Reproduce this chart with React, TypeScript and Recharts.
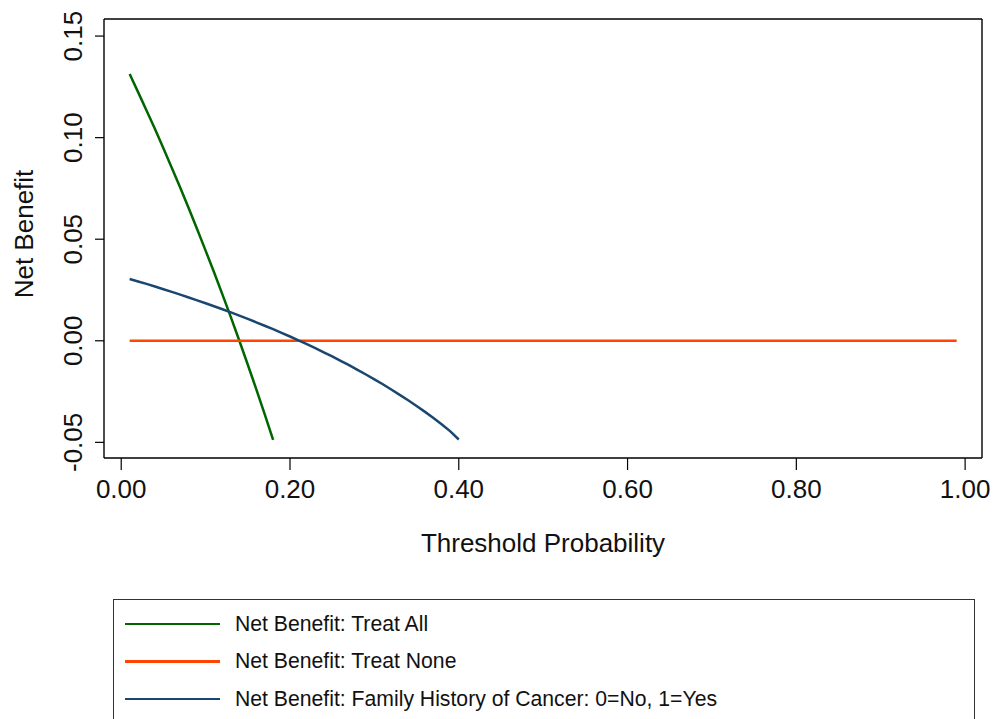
import { Legend, Line, LineChart, XAxis, YAxis } from "recharts";

const thresholds = [0.01, 0.02, 0.03, 0.04, 0.05, 0.06, 0.07, 0.08, 0.09, 0.1, 0.11, 0.12, 0.13, 0.14, 0.15, 0.16, 0.17, 0.18, 0.19, 0.2, 0.21, 0.22, 0.23, 0.24, 0.25, 0.26, 0.27, 0.28, 0.29, 0.3, 0.31, 0.32, 0.33, 0.34, 0.35, 0.36, 0.37, 0.38, 0.39, 0.4];

const treatAll = [0.1313, 0.1224, 0.1134, 0.1042, 0.0948, 0.0851, 0.0753, 0.0652, 0.0549, 0.0444, 0.0337, 0.0227, 0.0115, 0.0, -0.0118, -0.0238, -0.0361, -0.0488];

const familyHistory = [0.0304, 0.0292, 0.028, 0.0267, 0.0254, 0.0241, 0.0227, 0.0213, 0.0199, 0.0185, 0.017, 0.0155, 0.014, 0.0124, 0.0108, 0.0091, 0.0074, 0.0057, 0.0039, 0.0021, 0.0002, -0.0017, -0.0036, -0.0057, -0.0077, -0.0099, -0.012, -0.0143, -0.0166, -0.019, -0.0214, -0.024, -0.0266, -0.0293, -0.0321, -0.035, -0.038, -0.0412, -0.0446, -0.0486];

const treatNoneX = [0.01, 0.99];
const treatNone = [0, 0];

const xTicks = [0, 0.2, 0.4, 0.6, 0.8, 1.0];
const yTicks = [-0.05, 0, 0.05, 0.1, 0.15];

const series = [
  { name: "Net Benefit: Treat All", color: "#006600" },
  { name: "Net Benefit: Treat None", color: "#ff4500" },
  { name: "Net Benefit: Family History of Cancer: 0=No, 1=Yes", color: "#1a476f" },
];

const allData = treatAll.map((nb, i) => ({ pt: thresholds[i], nb }));
const fhData = familyHistory.map((nb, i) => ({ pt: thresholds[i], nb }));
const noneData = treatNone.map((nb, i) => ({ pt: treatNoneX[i], nb }));

const FONT = "Arial, 'Liberation Sans', Helvetica, sans-serif";
const INK = "#000";
const X_DOMAIN = [-0.0204, 1.02];
const Y_DOMAIN = [-0.0577, 0.1584];

function YTick({ x, y, payload }: any) {
  const bx = x - 11;
  return (
    <text
      x={bx}
      y={y}
      transform={`rotate(-90, ${bx}, ${y})`}
      textAnchor="middle"
      fontSize={26}
      fontFamily={FONT}
      fill="#111"
    >
      {payload.value.toFixed(2)}
    </text>
  );
}

function LegendBox() {
  return (
    <div
      style={{
        width: 862,
        height: 140,
        border: "1px solid #333",
        background: "#fff",
        fontFamily: FONT,
        fontSize: 21.2,
        color: "#111",
        boxSizing: "border-box",
        paddingTop: 5,
      }}
    >
      {series.map((s) => (
        <div key={s.name} style={{ display: "flex", alignItems: "center", height: 37.5 }}>
          <div style={{ marginLeft: 11, width: 95, height: 2.5, background: s.color }} />
          <span style={{ marginLeft: 15 }}>{s.name}</span>
        </div>
      ))}
    </div>
  );
}

export default function App() {
  return (
    <div style={{ position: "absolute", left: 0, top: 0, width: 997, height: 719, background: "#fff", overflow: "hidden" }}>
      <LineChart width={997} height={719} margin={{ top: 18, right: 14, left: 0, bottom: 181 }}>
        <XAxis
          type="number"
          dataKey="pt"
          domain={X_DOMAIN}
          ticks={xTicks}
          allowDataOverflow
          height={80}
          tickSize={12}
          tickMargin={10}
          tickFormatter={(v: number) => v.toFixed(2)}
          tick={{ fill: "#111", fontSize: 26, fontFamily: FONT }}
          axisLine={{ stroke: INK, strokeWidth: 1.4 }}
          tickLine={{ stroke: INK, strokeWidth: 1.2 }}
          label={{
            content: ({ viewBox }: any) => (
              <text
                x={viewBox.x + viewBox.width / 2}
                y={552}
                textAnchor="middle"
                fontSize={26}
                fontFamily={FONT}
                fill="#111"
              >
                Threshold Probability
              </text>
            ),
          }}
        />
        <XAxis
          xAxisId="top"
          orientation="top"
          type="number"
          domain={X_DOMAIN}
          allowDataOverflow
          ticks={[0.5]}
          tick={false}
          height={1}
          axisLine={{ stroke: INK, strokeWidth: 1.4 }}
          tickLine={false}
        />
        <YAxis
          type="number"
          domain={Y_DOMAIN}
          ticks={yTicks}
          allowDataOverflow
          width={104}
          tickSize={9}
          tickMargin={2}
          tick={<YTick />}
          axisLine={{ stroke: INK, strokeWidth: 1.4 }}
          tickLine={{ stroke: INK, strokeWidth: 1.2 }}
          label={{
            content: () => (
              <text
                x={33}
                y={234}
                transform="rotate(-90, 33, 234)"
                textAnchor="middle"
                fontSize={26}
                fontFamily={FONT}
                fill="#111"
              >
                Net Benefit
              </text>
            ),
          }}
        />
        <YAxis
          yAxisId="right"
          orientation="right"
          type="number"
          domain={Y_DOMAIN}
          allowDataOverflow
          ticks={[0]}
          tick={false}
          width={1}
          axisLine={{ stroke: INK, strokeWidth: 1.4 }}
          tickLine={false}
        />
        <Line
          data={allData}
          dataKey="nb"
          name={series[0].name}
          stroke={series[0].color}
          strokeWidth={2.5}
          dot={false}
          type="linear"
          isAnimationActive={false}
        />
        <Line
          data={noneData}
          dataKey="nb"
          name={series[1].name}
          stroke={series[1].color}
          strokeWidth={2.5}
          dot={false}
          type="linear"
          isAnimationActive={false}
        />
        <Line
          data={fhData}
          dataKey="nb"
          name={series[2].name}
          stroke={series[2].color}
          strokeWidth={2.5}
          dot={false}
          type="linear"
          isAnimationActive={false}
        />
        <Legend
          layout="vertical"
          verticalAlign="middle"
          align="center"
          content={<LegendBox />}
          wrapperStyle={{ position: "absolute", left: 113, top: 599, width: 862, height: 140 }}
        />
      </LineChart>
    </div>
  );
}
